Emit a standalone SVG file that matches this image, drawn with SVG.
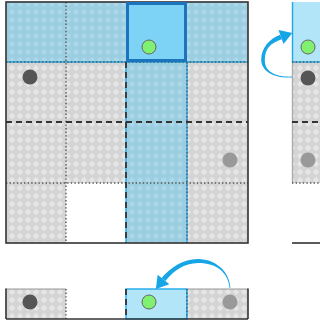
<svg xmlns="http://www.w3.org/2000/svg" width="320" height="327" viewBox="0 0 320 327">
<defs>
<pattern id="pg" width="8" height="8" patternUnits="userSpaceOnUse">
<rect width="8" height="8" fill="#d4d4d4"/>
<polygon points="4,0.8 7.2,4 4,7.2 0.8,4" fill="#e6e6e6"/>
</pattern>
<pattern id="pb" width="8" height="8" patternUnits="userSpaceOnUse">
<rect width="8" height="8" fill="#9ccee2"/>
<polygon points="4,0.8 7.2,4 4,7.2 0.8,4" fill="#acd7e8"/>
</pattern>
<style>
.border{fill:none;stroke:#333;stroke-width:1.6}
.dot{stroke:#555;stroke-width:1.4;stroke-dasharray:1.4 2.2;fill:none}
.dash{stroke:#333;stroke-width:1.8;stroke-dasharray:6 4;fill:none}
.bl{stroke:#1ca8e8;stroke-width:1.4;fill:none}
.dark{fill:#555}
.grey{fill:#999}
.green{fill:#80f070;stroke:#666;stroke-width:1}
.arrow{fill:#16a5e6}
</style>
</defs>
<g id="grid">
<rect x="6" y="2" width="242" height="241" fill="url(#pg)"/>
<rect x="6" y="2" width="242" height="60" fill="url(#pb)"/>
<rect x="126" y="62" width="61" height="181" fill="url(#pb)"/>
<rect x="66" y="183" width="60" height="60" fill="#fff"/>
<line class="bl" x1="6" y1="62" x2="248" y2="62"/>
<line class="bl" x1="126" y1="62" x2="126" y2="243"/>
<line class="bl" x1="187" y1="62" x2="187" y2="243"/>
<line class="dot" x1="6" y1="62" x2="248" y2="62"/>
<line class="dot" x1="6" y1="183" x2="248" y2="183"/>
<line class="dot" x1="66" y1="2" x2="66" y2="243"/>
<line class="dot" x1="187" y1="62" x2="187" y2="243"/>
<line class="dash" x1="6" y1="122" x2="248" y2="122"/>
<line class="dash" x1="126" y1="62" x2="126" y2="243"/>
<rect class="border" x="6" y="2" width="242" height="241"/>
</g>
<g id="selected">
<rect x="127.5" y="3.5" width="58" height="57" fill="#7dd3f5" stroke="#1c74bc" stroke-width="3"/>
<circle class="green" cx="149" cy="47" r="7"/>
</g>
<g id="dark-ball"><circle class="dark" cx="30" cy="77" r="7.5"/></g>
<g id="grey-ball"><circle class="grey" cx="230" cy="160" r="7.5"/></g>
<g id="strip">
<rect x="292" y="62" width="30" height="121" fill="url(#pg)"/>
<rect x="292" y="2" width="30" height="60" fill="#b3e5f8"/>
<line x1="292.5" y1="2" x2="292.5" y2="62" stroke="#1ca8e8" stroke-width="1.4"/>
<line x1="292.5" y1="62" x2="292.5" y2="183" stroke="#aaa" stroke-width="1.4"/>
<line class="bl" x1="292" y1="62" x2="320" y2="62"/>
<line class="dot" x1="292" y1="62" x2="320" y2="62"/>
<line class="dash" x1="292" y1="122" x2="320" y2="122"/>
<line class="dot" x1="292" y1="183" x2="320" y2="183"/>
<line x1="292" y1="243" x2="320" y2="243" stroke="#333" stroke-width="1.6"/>
<circle class="green" cx="308" cy="47" r="7"/>
<circle class="dark" cx="308" cy="78" r="7.5"/>
<circle class="grey" cx="308" cy="160" r="7.5"/>
</g>
<g id="row">
<rect x="6" y="289" width="60" height="30" fill="url(#pg)"/>
<line x1="6" y1="289" x2="66" y2="289" stroke="#999" stroke-width="1.2"/>
<line x1="6" y1="288.5" x2="6" y2="319" stroke="#333" stroke-width="1.6"/>
<line class="dot" x1="66" y1="289" x2="66" y2="319"/>
<rect x="126" y="289" width="61" height="30" fill="#b3e5f8" stroke="#1ca8e8" stroke-width="1.4"/>
<line class="dash" x1="126" y1="289" x2="126" y2="319"/>
<rect x="187" y="289" width="61" height="30" fill="url(#pg)"/>
<line x1="187" y1="289" x2="248" y2="289" stroke="#999" stroke-width="1.2"/>
<line x1="187" y1="289" x2="187" y2="319" stroke="#1ca8e8" stroke-width="1.4"/>
<line class="dot" x1="187" y1="289" x2="187" y2="319"/>
<line x1="248" y1="288.5" x2="248" y2="319" stroke="#333" stroke-width="1.6"/>
<line x1="6" y1="319" x2="248" y2="319" stroke="#333" stroke-width="1.6"/>
<circle class="dark" cx="30" cy="302" r="7.5"/>
<circle class="green" cx="149" cy="302" r="7"/>
<circle class="grey" cx="230" cy="302" r="7.5"/>
</g>
<g id="connectors">
<path class="arrow" d="M230.4,288 C229.8,271.95 216,259.2 198,259 C184,258.8 170.2,267.55 161.55,277.92 L165.45,281.08 C173.8,270.45 184,263.2 198,263 C216,262.8 228.2,272.05 229.6,288 Z"/>
<polygon class="arrow" points="155.9,288.9 157.65,274.77 169.35,284.23"/>
<path class="arrow" d="M292,76.6 C276,77.2 264.6,72 264.8,60 C265,48 270.8,43.2 281.85,39.35 L280.15,34.65 C269.2,38.8 261,48 261.2,60 C261.4,72 276,78.8 292,77.4 Z"/>
<polygon class="arrow" points="292.3,32.9 283.55,44.05 278.45,29.95"/>
</g>
</svg>
